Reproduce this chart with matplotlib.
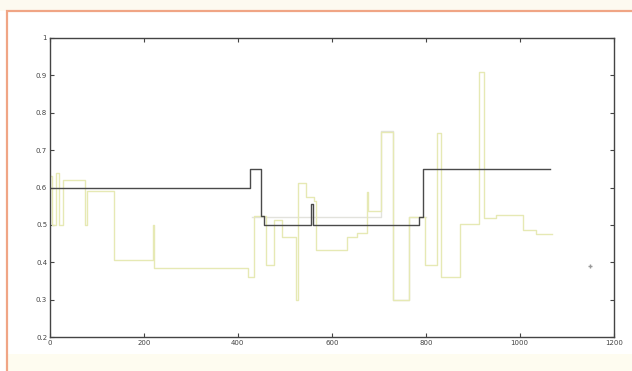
import matplotlib
matplotlib.use("Agg")
import matplotlib.pyplot as plt
from matplotlib.patches import Rectangle
import numpy as np

# dark (black) step series
dark_x = [0, 425, 450, 455, 555, 561, 785, 795, 1065]
dark_y = [0.60, 0.65, 0.525, 0.50, 0.555, 0.50, 0.52, 0.65, 0.65]

# light yellow step series
yel_x = [0, 5, 12, 20, 27, 75, 78, 136, 219, 222, 421, 434, 460, 477, 494, 524, 528,
         545, 562, 567, 632, 653, 674, 678, 704, 730, 764, 798, 824, 832, 872, 914,
         923, 949, 1008, 1034, 1068]
yel_y = [0.63, 0.50, 0.64, 0.50, 0.62, 0.50, 0.59, 0.405, 0.50, 0.385, 0.36, 0.525,
         0.393, 0.513, 0.468, 0.30, 0.612, 0.575, 0.565, 0.433, 0.468, 0.478, 0.588,
         0.537, 0.749, 0.30, 0.52, 0.393, 0.745, 0.36, 0.502, 0.909, 0.518, 0.527,
         0.486, 0.475, 0.475]

# light gray step series
gray_x = [430, 704, 730, 764, 800]
gray_y = [0.52, 0.75, 0.30, 0.52, 0.52]

# isolated point
pt_x = [1150]
pt_y = [0.39]

xticks = [0, 200, 400, 600, 800, 1000, 1200]
yticks = [0.2, 0.3, 0.4, 0.5, 0.6, 0.7, 0.8, 0.9, 1.0]
yticklabels = ["0.2", "0.3", "0.4", "0.5", "0.6", "0.7", "0.8", "0.9", "1"]

fig = plt.figure(figsize=(6.32, 3.71), dpi=100)
fig.patch.set_facecolor("white")

# outer frame
fig.patches.append(Rectangle((0, 0.97), 1, 0.03, transform=fig.transFigure,
                             facecolor="#fdfaf0", edgecolor="none", zorder=0))
fig.patches.append(Rectangle((0.011, -0.01), 1.0, 0.98, transform=fig.transFigure,
                             facecolor="none", edgecolor="#f0a585", lw=1.6, zorder=1))
fig.patches.append(Rectangle((0.013, 0.0), 0.99, 0.045, transform=fig.transFigure,
                             facecolor="#fefcf0", edgecolor="none", zorder=0))

ax = fig.add_axes([0.079, 0.0916, 0.892, 0.806])
ax.step(gray_x, gray_y, where="post", color="#e2e2dc", lw=1.0)
ax.step(yel_x, yel_y, where="post", color="#e6e9b4", lw=1.0)
ax.step(dark_x, dark_y, where="post", color="#4a4a4a", lw=1.0)
ax.plot(pt_x, pt_y, marker="+", ms=3, color="#999999", ls="none")

ax.set_xlim(0, 1200)
ax.set_ylim(0.2, 1.0)
ax.set_xticks(xticks)
ax.set_yticks(yticks)
ax.set_yticklabels(yticklabels)
ax.tick_params(direction="in", length=3, width=0.8, labelsize=5, colors="#444444",
               top=True, right=True, pad=2)
for s in ax.spines.values():
    s.set_color("#444444")
    s.set_linewidth(1.0)

fig.savefig("out.png", dpi=100)
